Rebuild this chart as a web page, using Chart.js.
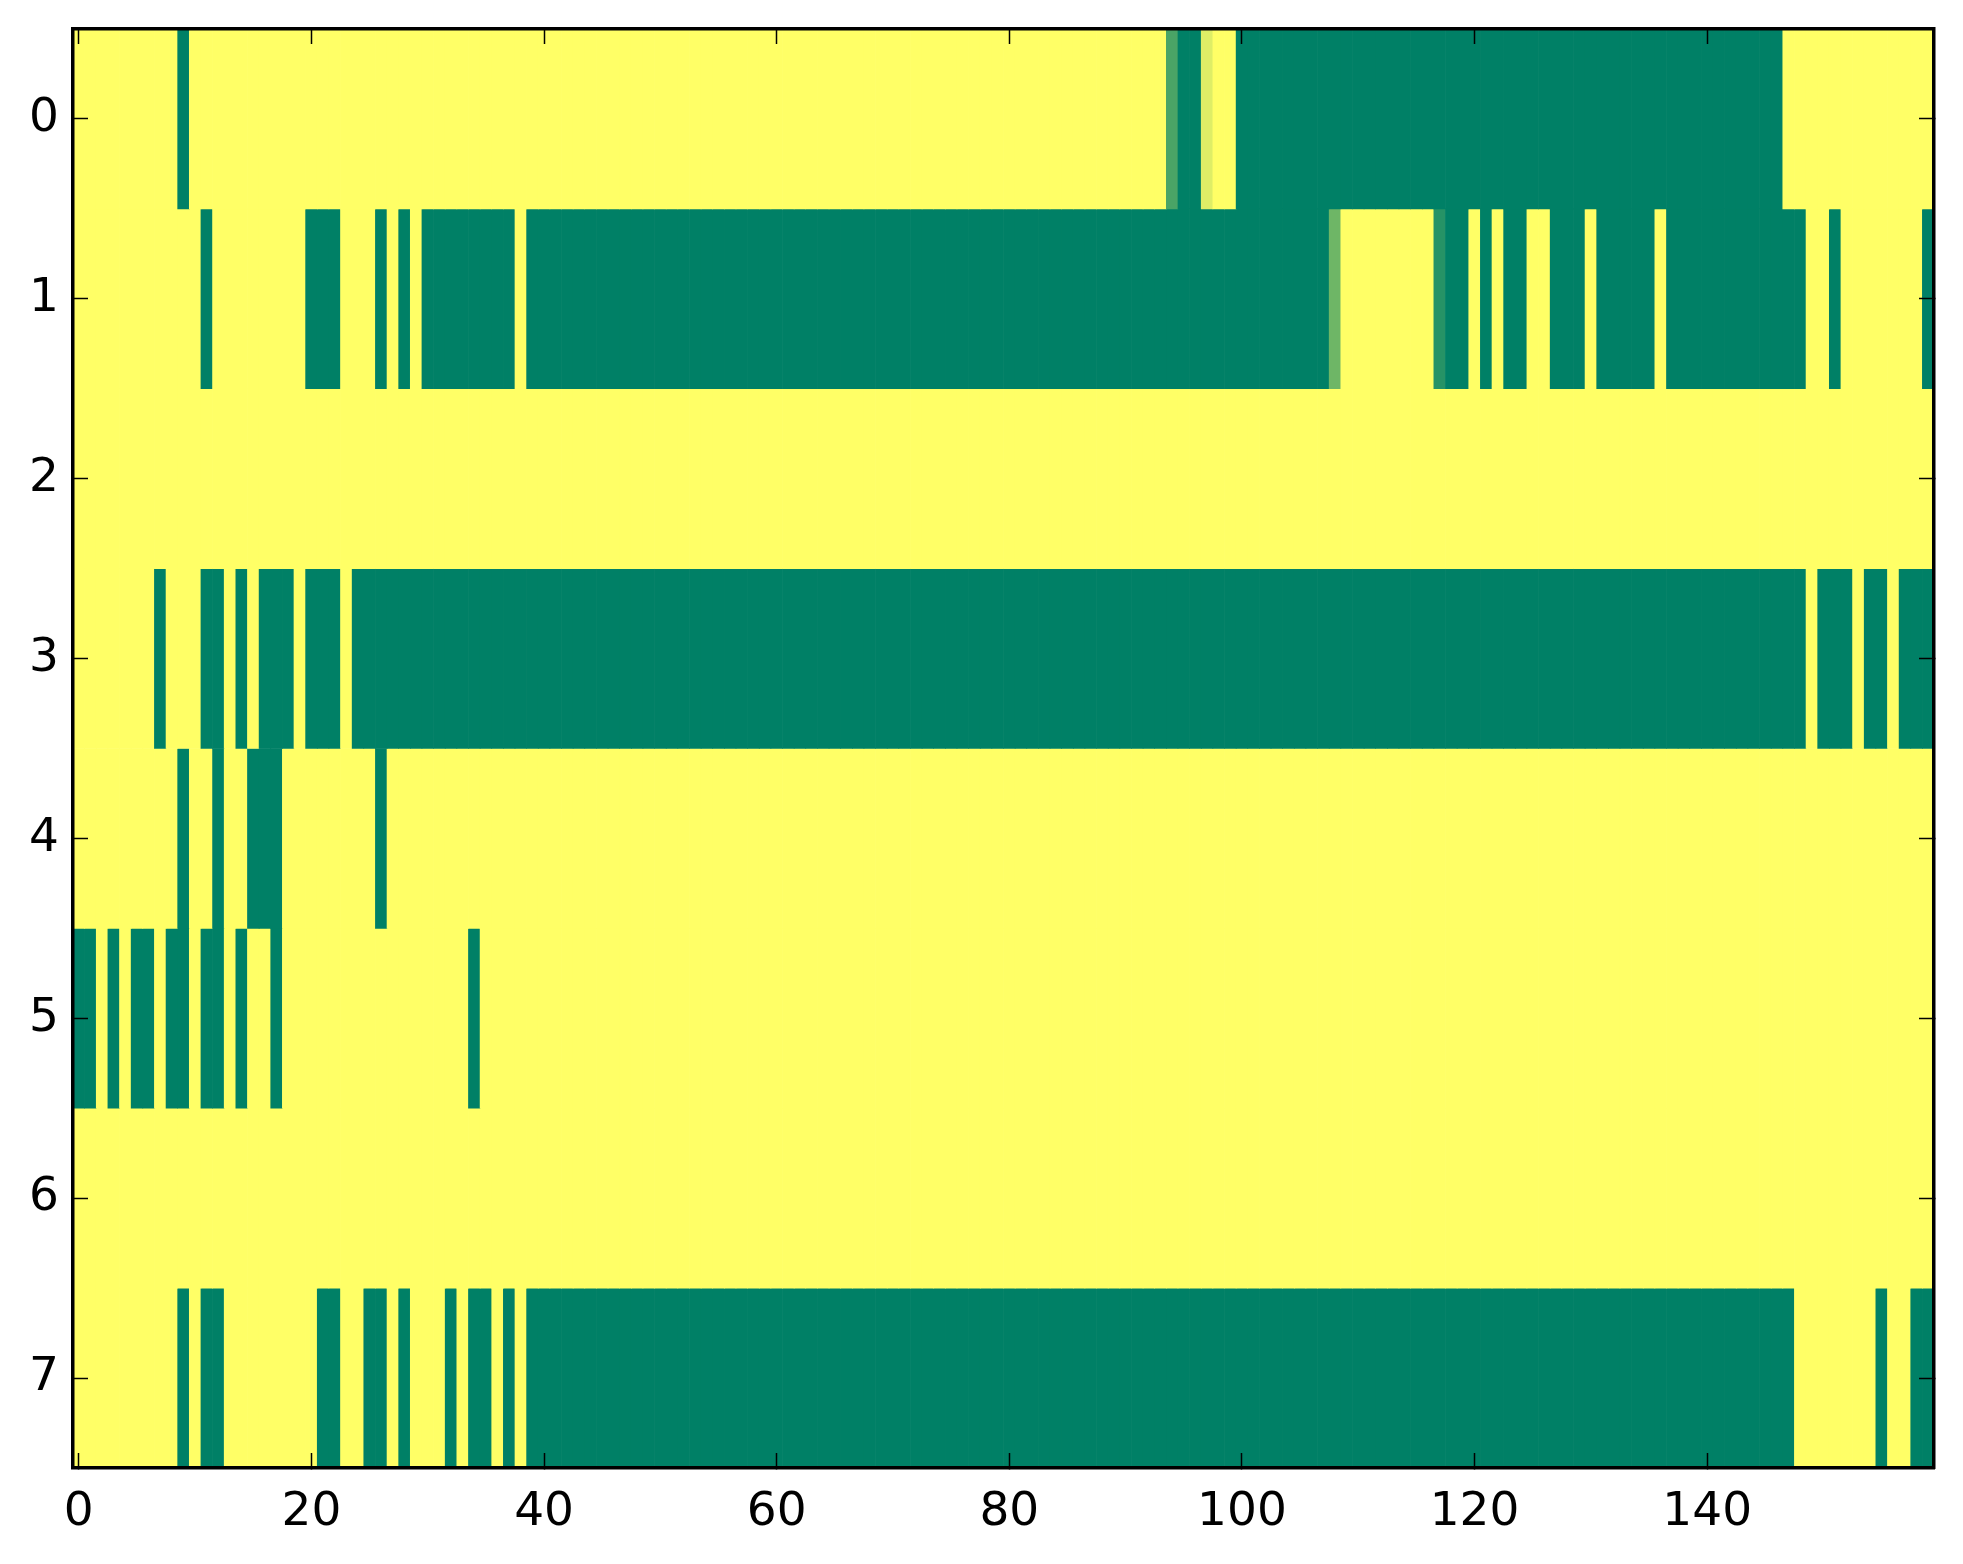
<!DOCTYPE html>
<html>
<head>
<meta charset="utf-8">
<script src="https://cdn.jsdelivr.net/npm/chart.js@4.4.1/dist/chart.umd.min.js"></script>
<style>
  html, body { margin: 0; padding: 0; background: #fff; }
</style>
</head>
<body>
<canvas id="heatmap" width="1963" height="1564"></canvas>
<script>
// ================= DATA (1 = yellow, 0 = green) =================
const row0 = [
  1,1,1,1,1,1,1,1,1,0, 1,1,1,1,1,1,1,1,1,1,
  1,1,1,1,1,1,1,1,1,1, 1,1,1,1,1,1,1,1,1,1,
  1,1,1,1,1,1,1,1,1,1, 1,1,1,1,1,1,1,1,1,1,
  1,1,1,1,1,1,1,1,1,1, 1,1,1,1,1,1,1,1,1,1,
  1,1,1,1,1,1,1,1,1,1, 1,1,1,1,0.29,0,0,0.87,1,1,
  0,0,0,0,0,0,0,0,0,0, 0,0,0,0,0,0,0,0,0,0,
  0,0,0,0,0,0,0,0,0,0, 0,0,0,0,0,0,0,0,0,0,
  0,0,0,0,0,0,0,1,1,1, 1,1,1,1,1,1,1,1,1,1
];
const row1 = [
  1,1,1,1,1,1,1,1,1,1, 1,0,1,1,1,1,1,1,1,1,
  0,0,0,1,1,1,0,1,0,1, 0,0,0,0,0,0,0,0,1,0,
  0,0,0,0,0,0,0,0,0,0, 0,0,0,0,0,0,0,0,0,0,
  0,0,0,0,0,0,0,0,0,0, 0,0,0,0,0,0,0,0,0,0,
  0,0,0,0,0,0,0,0,0,0, 0,0,0,0,0,0,0,0,0,0,
  0,0,0,0,0,0,0,0,0.43,1, 1,1,1,1,1,1,1,0.15,0,0,
  1,0,1,0,0,1,1,0,0,0, 1,0,0,0,0,0,1,0,0,0,
  0,0,0,0,0,0,0,0,0,1, 1,0,1,1,1,1,1,1,1,0
];
const row2 = [
  1,1,1,1,1,1,1,1,1,1, 1,1,1,1,1,1,1,1,1,1,
  1,1,1,1,1,1,1,1,1,1, 1,1,1,1,1,1,1,1,1,1,
  1,1,1,1,1,1,1,1,1,1, 1,1,1,1,1,1,1,1,1,1,
  1,1,1,1,1,1,1,1,1,1, 1,1,1,1,1,1,1,1,1,1,
  1,1,1,1,1,1,1,1,1,1, 1,1,1,1,1,1,1,1,1,1,
  1,1,1,1,1,1,1,1,1,1, 1,1,1,1,1,1,1,1,1,1,
  1,1,1,1,1,1,1,1,1,1, 1,1,1,1,1,1,1,1,1,1,
  1,1,1,1,1,1,1,1,1,1, 1,1,1,1,1,1,1,1,1,1
];
const row3 = [
  1,1,1,1,1,1,1,0,1,1, 1,0,0,1,0,1,0,0,0,1,
  0,0,0,1,0,0,0,0,0,0, 0,0,0,0,0,0,0,0,0,0,
  0,0,0,0,0,0,0,0,0,0, 0,0,0,0,0,0,0,0,0,0,
  0,0,0,0,0,0,0,0,0,0, 0,0,0,0,0,0,0,0,0,0,
  0,0,0,0,0,0,0,0,0,0, 0,0,0,0,0,0,0,0,0,0,
  0,0,0,0,0,0,0,0,0,0, 0,0,0,0,0,0,0,0,0,0,
  0,0,0,0,0,0,0,0,0,0, 0,0,0,0,0,0,0,0,0,0,
  0,0,0,0,0,0,0,0,0,1, 0,0,0,1,0,0,1,0,0,0
];
const row4 = [
  1,1,1,1,1,1,1,1,1,0, 1,1,0,1,1,0,0,0,1,1,
  1,1,1,1,1,1,0,1,1,1, 1,1,1,1,1,1,1,1,1,1,
  1,1,1,1,1,1,1,1,1,1, 1,1,1,1,1,1,1,1,1,1,
  1,1,1,1,1,1,1,1,1,1, 1,1,1,1,1,1,1,1,1,1,
  1,1,1,1,1,1,1,1,1,1, 1,1,1,1,1,1,1,1,1,1,
  1,1,1,1,1,1,1,1,1,1, 1,1,1,1,1,1,1,1,1,1,
  1,1,1,1,1,1,1,1,1,1, 1,1,1,1,1,1,1,1,1,1,
  1,1,1,1,1,1,1,1,1,1, 1,1,1,1,1,1,1,1,1,1
];
const row5 = [
  0,0,1,0,1,0,0,1,0,0, 1,0,0,1,0,1,1,0,1,1,
  1,1,1,1,1,1,1,1,1,1, 1,1,1,1,0,1,1,1,1,1,
  1,1,1,1,1,1,1,1,1,1, 1,1,1,1,1,1,1,1,1,1,
  1,1,1,1,1,1,1,1,1,1, 1,1,1,1,1,1,1,1,1,1,
  1,1,1,1,1,1,1,1,1,1, 1,1,1,1,1,1,1,1,1,1,
  1,1,1,1,1,1,1,1,1,1, 1,1,1,1,1,1,1,1,1,1,
  1,1,1,1,1,1,1,1,1,1, 1,1,1,1,1,1,1,1,1,1,
  1,1,1,1,1,1,1,1,1,1, 1,1,1,1,1,1,1,1,1,1
];
const row6 = [
  1,1,1,1,1,1,1,1,1,1, 1,1,1,1,1,1,1,1,1,1,
  1,1,1,1,1,1,1,1,1,1, 1,1,1,1,1,1,1,1,1,1,
  1,1,1,1,1,1,1,1,1,1, 1,1,1,1,1,1,1,1,1,1,
  1,1,1,1,1,1,1,1,1,1, 1,1,1,1,1,1,1,1,1,1,
  1,1,1,1,1,1,1,1,1,1, 1,1,1,1,1,1,1,1,1,1,
  1,1,1,1,1,1,1,1,1,1, 1,1,1,1,1,1,1,1,1,1,
  1,1,1,1,1,1,1,1,1,1, 1,1,1,1,1,1,1,1,1,1,
  1,1,1,1,1,1,1,1,1,1, 1,1,1,1,1,1,1,1,1,1
];
const row7 = [
  1,1,1,1,1,1,1,1,1,0, 1,0,0,1,1,1,1,1,1,1,
  1,0,0,1,1,0,0,1,0,1, 1,1,0,1,0,0,1,0,1,0,
  0,0,0,0,0,0,0,0,0,0, 0,0,0,0,0,0,0,0,0,0,
  0,0,0,0,0,0,0,0,0,0, 0,0,0,0,0,0,0,0,0,0,
  0,0,0,0,0,0,0,0,0,0, 0,0,0,0,0,0,0,0,0,0,
  0,0,0,0,0,0,0,0,0,0, 0,0,0,0,0,0,0,0,0,0,
  0,0,0,0,0,0,0,0,0,0, 0,0,0,0,0,0,0,0,0,0,
  0,0,0,0,0,0,0,0,1,1, 1,1,1,1,1,0,1,1,0,0
];
const rows = [row0, row1, row2, row3, row4, row5, row6, row7];
const rowTicks = [0, 1, 2, 3, 4, 5, 6, 7];
const colTicks = [0, 20, 40, 60, 80, 100, 120, 140];

// ================= MÀU (matplotlib "summer") =================
function summer(v) {
  const r = Math.round(255 * v);
  const g = Math.round(127.5 + 127.5 * v);
  return `rgb(${r}, ${g}, 102)`;
}

Chart.defaults.font.family = "DejaVu Sans";
Chart.defaults.color = "#000";

const nCols = row0.length;

// mỗi hàng là một dataset gồm các cột nổi (floating bar) từ r-0.5 đến r+0.5
const datasets = rows.map((vals, r) => ({
  label: "row " + r,
  data: vals.map((v, c) => ({ x: c, y: [r - 0.5, r + 0.5] })),
  backgroundColor: vals.map(summer),
  borderWidth: 0,
  barPercentage: 1,
  categoryPercentage: 1,
  grouped: false
}));

const tickFont = { family: "DejaVu Sans", size: 47 };
const gridOpts = { offset: false, drawOnChartArea: false, tickLength: -15, tickWidth: 1.5, tickColor: "#000", z: 1 };
const borderOpts = { color: "#000", width: 3.5, z: 1 };

// cố định kích thước trục, bỏ phần đệm nhãn tự động
function fixSize(w, h) {
  return s => {
    if (w !== null) s.width = w;
    if (h !== null) s.height = h;
    s.paddingTop = 0; s.paddingBottom = 0; s.paddingLeft = 0; s.paddingRight = 0;
  };
}

new Chart(document.getElementById("heatmap"), {
  type: "bar",
  data: { datasets },
  options: {
    responsive: false,
    animation: false,
    devicePixelRatio: 1,
    layout: { padding: { top: 29, right: 29, left: 0, bottom: 0 } },
    plugins: { legend: { display: false }, tooltip: { enabled: false } },
    scales: {
      x: {
        type: "linear", position: "bottom", bounds: "data", offset: false,
        min: -0.5, max: nCols - 0.5,
        afterBuildTicks: s => { s.ticks = colTicks.map(v => ({ value: v })); },
        afterFit: fixSize(null, 96),
        grid: gridOpts, border: borderOpts,
        ticks: { font: tickFont, color: "#000", padding: 32, maxRotation: 0, autoSkip: false }
      },
      x2: {
        type: "linear", position: "top", bounds: "data", offset: false,
        min: -0.5, max: nCols - 0.5,
        afterBuildTicks: s => { s.ticks = colTicks.map(v => ({ value: v })); },
        afterFit: fixSize(null, 0),
        grid: gridOpts, border: borderOpts,
        ticks: { display: false }
      },
      y: {
        type: "linear", position: "left", bounds: "data", reverse: true,
        min: -0.5, max: rows.length - 0.5,
        afterBuildTicks: s => { s.ticks = rowTicks.map(v => ({ value: v })); },
        afterFit: fixSize(73, null),
        grid: gridOpts, border: borderOpts,
        ticks: { font: tickFont, color: "#000", padding: 29 }
      },
      y2: {
        type: "linear", position: "right", bounds: "data", reverse: true,
        min: -0.5, max: rows.length - 0.5,
        afterBuildTicks: s => { s.ticks = rowTicks.map(v => ({ value: v })); },
        afterFit: fixSize(0, null),
        grid: gridOpts, border: borderOpts,
        ticks: { display: false }
      }
    }
  }
});
</script>
</body>
</html>
